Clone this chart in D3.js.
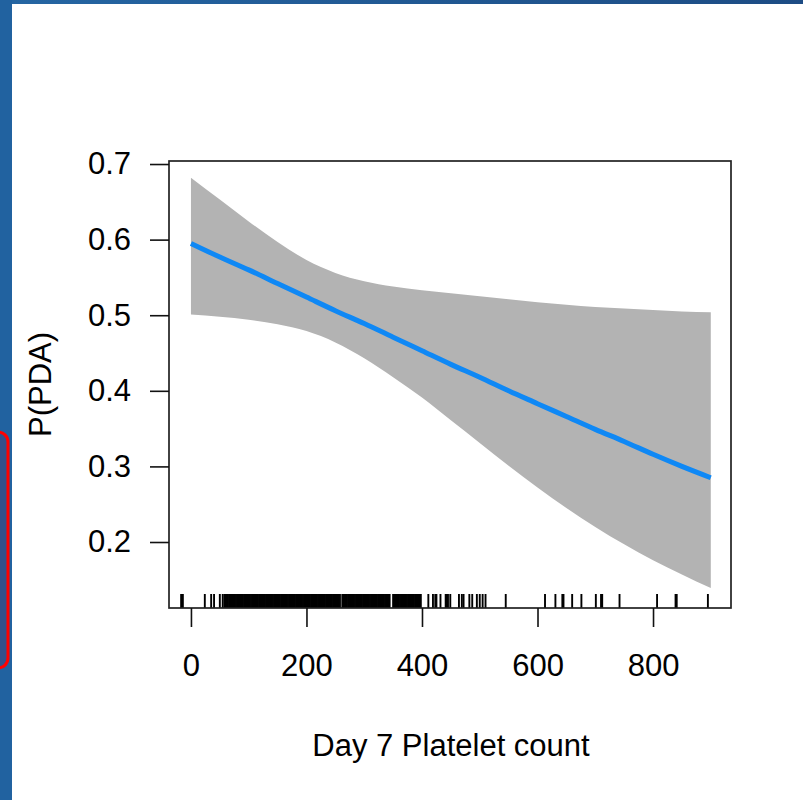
<!DOCTYPE html>
<html>
<head>
<meta charset="utf-8">
<script src="https://cdn.jsdelivr.net/npm/d3@7"></script>
<style>
  html, body { margin: 0; padding: 0; background: #ffffff; }
  svg { display: block; }
  text { font-family: "Liberation Sans", Arial, sans-serif; fill: #000; }
</style>
</head>
<body>
<svg id="chart" width="803" height="800"></svg>
<script>
// ---- data ----
const gridX = [0, 50, 100, 150, 200, 250, 300, 350, 400, 450, 500, 550, 600, 650, 700, 750, 800, 850, 900];
const fitP  = [0.595, 0.577, 0.560, 0.542, 0.524, 0.506, 0.489, 0.471, 0.453, 0.435, 0.418, 0.400, 0.383, 0.366, 0.349, 0.333, 0.316, 0.300, 0.285];
const upperP = [0.682, 0.653, 0.624, 0.597, 0.573, 0.556, 0.545, 0.538, 0.533, 0.529, 0.525, 0.521, 0.517, 0.514, 0.511, 0.509, 0.507, 0.505, 0.504];
const lowerP = [0.501, 0.498, 0.494, 0.488, 0.479, 0.464, 0.443, 0.418, 0.391, 0.361, 0.331, 0.301, 0.272, 0.245, 0.220, 0.197, 0.176, 0.157, 0.139];
// rug: individual observations, dense runs typed as closely packed values
const rugSparse = [-17, -14, 24, 35, 40, 50, 55,
  411, 419, 423, 425, 432, 441, 443, 445, 449, 464, 469, 472, 482, 487, 495, 500, 505, 510,
  545, 613, 631, 643, 645, 660, 676, 701, 710, 712, 742, 807, 839, 841, 895];
const rugDense = [
  58, 60, 62, 64, 66, 68, 70, 72, 74, 76, 78, 80, 82, 84, 86, 88, 90, 92, 94, 96, 98,
  100, 102, 104, 106, 108, 110, 112, 114, 116, 118, 120, 122, 124, 126, 128, 130, 132, 134, 136, 138,
  140, 142, 144, 146, 148, 150, 152, 154, 156, 158, 160, 162, 164, 166, 168, 170, 172, 174, 176, 178,
  180, 182, 184, 186, 188, 190, 192, 194, 196, 198, 200, 202, 204, 206, 208, 210, 212, 214, 216, 218,
  220, 222, 224, 226, 228, 230, 232, 234, 236, 238, 240, 242, 244, 246, 248, 250, 252, 254, 256, 258,
  262, 264, 266, 268, 270, 272, 274, 276, 278, 280, 282, 284, 286, 288, 290, 292, 294, 296, 298,
  300, 302, 304, 306, 308, 310, 312, 314, 316, 318, 320, 322, 324, 326, 328, 330, 332, 334, 336, 338,
  340, 342, 344,
  350, 352, 354, 356, 358, 360, 362, 364, 366, 368, 370, 372, 374, 376, 378, 380, 382, 384, 386, 388,
  390, 392, 394, 396, 398];
const xTicks = [0, 200, 400, 600, 800];
const yTicks = [0.2, 0.3, 0.4, 0.5, 0.6, 0.7];
const xTitle = "Day 7 Platelet count";
const yTitle = "P(PDA)";

// ---- layout ----
const svg = d3.select("#chart");
const box = { left: 169, right: 731, top: 161, bottom: 608 };
const FS = 31;

// page decoration (slide frame)
const grad = svg.append("defs").append("linearGradient").attr("id", "topg")
  .attr("x1", "0%").attr("x2", "100%");
grad.append("stop").attr("offset", "0%").attr("stop-color", "#2566a3");
grad.append("stop").attr("offset", "100%").attr("stop-color", "#1d4c84");
svg.append("rect").attr("x", 0).attr("y", 0).attr("width", 803).attr("height", 4).attr("fill", "url(#topg)");
svg.append("rect").attr("x", 0).attr("y", 0).attr("width", 12).attr("height", 800).attr("fill", "#2162a0");
svg.append("rect").attr("x", -20).attr("y", 432).attr("width", 28).attr("height", 236)
  .attr("rx", 10).attr("fill", "#33508b").attr("stroke", "#ff0000").attr("stroke-width", 3);

const x = d3.scaleLinear().domain([-38, 935]).range([box.left, box.right]);
const y = d3.scaleLinear().domain([0.1127, 0.704]).range([box.bottom, box.top]);

// confidence band
const band = gridX.map((v, i) => ({ x: v, lo: lowerP[i], hi: upperP[i], f: fitP[i] }));
svg.append("path").datum(band)
  .attr("d", d3.area().x(d => x(d.x)).y0(d => y(d.lo)).y1(d => y(d.hi)).curve(d3.curveMonotoneX))
  .attr("fill", "#b3b3b3");

// fitted line
svg.append("path").datum(band)
  .attr("d", d3.line().x(d => x(d.x)).y(d => y(d.f)).curve(d3.curveMonotoneX))
  .attr("fill", "none").attr("stroke", "#0f88f5").attr("stroke-width", 5).attr("stroke-linecap", "butt");

// rug
svg.append("g").selectAll("line").data(rugSparse.concat(rugDense)).join("line")
  .attr("x1", d => x(d)).attr("x2", d => x(d))
  .attr("y1", box.bottom).attr("y2", box.bottom - 14)
  .attr("stroke", "#000").attr("stroke-width", 1.9);

// box
svg.append("rect").attr("x", box.left).attr("y", box.top)
  .attr("width", box.right - box.left).attr("height", box.bottom - box.top)
  .attr("fill", "none").attr("stroke", "#222").attr("stroke-width", 1.7);

// axes
const gx = svg.append("g").attr("transform", `translate(0,${box.bottom})`)
  .call(d3.axisBottom(x).tickValues(xTicks).tickSize(19).tickPadding(27).tickFormat(d3.format("d")));
gx.select(".domain").remove();
gx.selectAll(".tick line").attr("stroke", "#111").attr("stroke-width", 1.6);
gx.selectAll(".tick text").attr("font-size", FS).attr("font-family", "Liberation Sans, Arial, sans-serif").attr("fill", "#000");

const gy = svg.append("g").attr("transform", `translate(${box.left},0)`)
  .call(d3.axisLeft(y).tickValues(yTicks).tickSize(19).tickPadding(19).tickFormat(d3.format(".1f")));
gy.select(".domain").remove();
gy.selectAll(".tick line").attr("stroke", "#111").attr("stroke-width", 1.6);
gy.selectAll(".tick text").attr("font-size", FS).attr("font-family", "Liberation Sans, Arial, sans-serif").attr("fill", "#000");

// titles
svg.append("text").attr("x", (box.left + box.right) / 2 + 1).attr("y", 756)
  .attr("text-anchor", "middle").attr("font-size", FS).text(xTitle);
svg.append("text")
  .attr("transform", `translate(51,${(box.top + box.bottom) / 2}) rotate(-90)`)
  .attr("text-anchor", "middle").attr("font-size", FS).text(yTitle);
</script>
</body>
</html>
